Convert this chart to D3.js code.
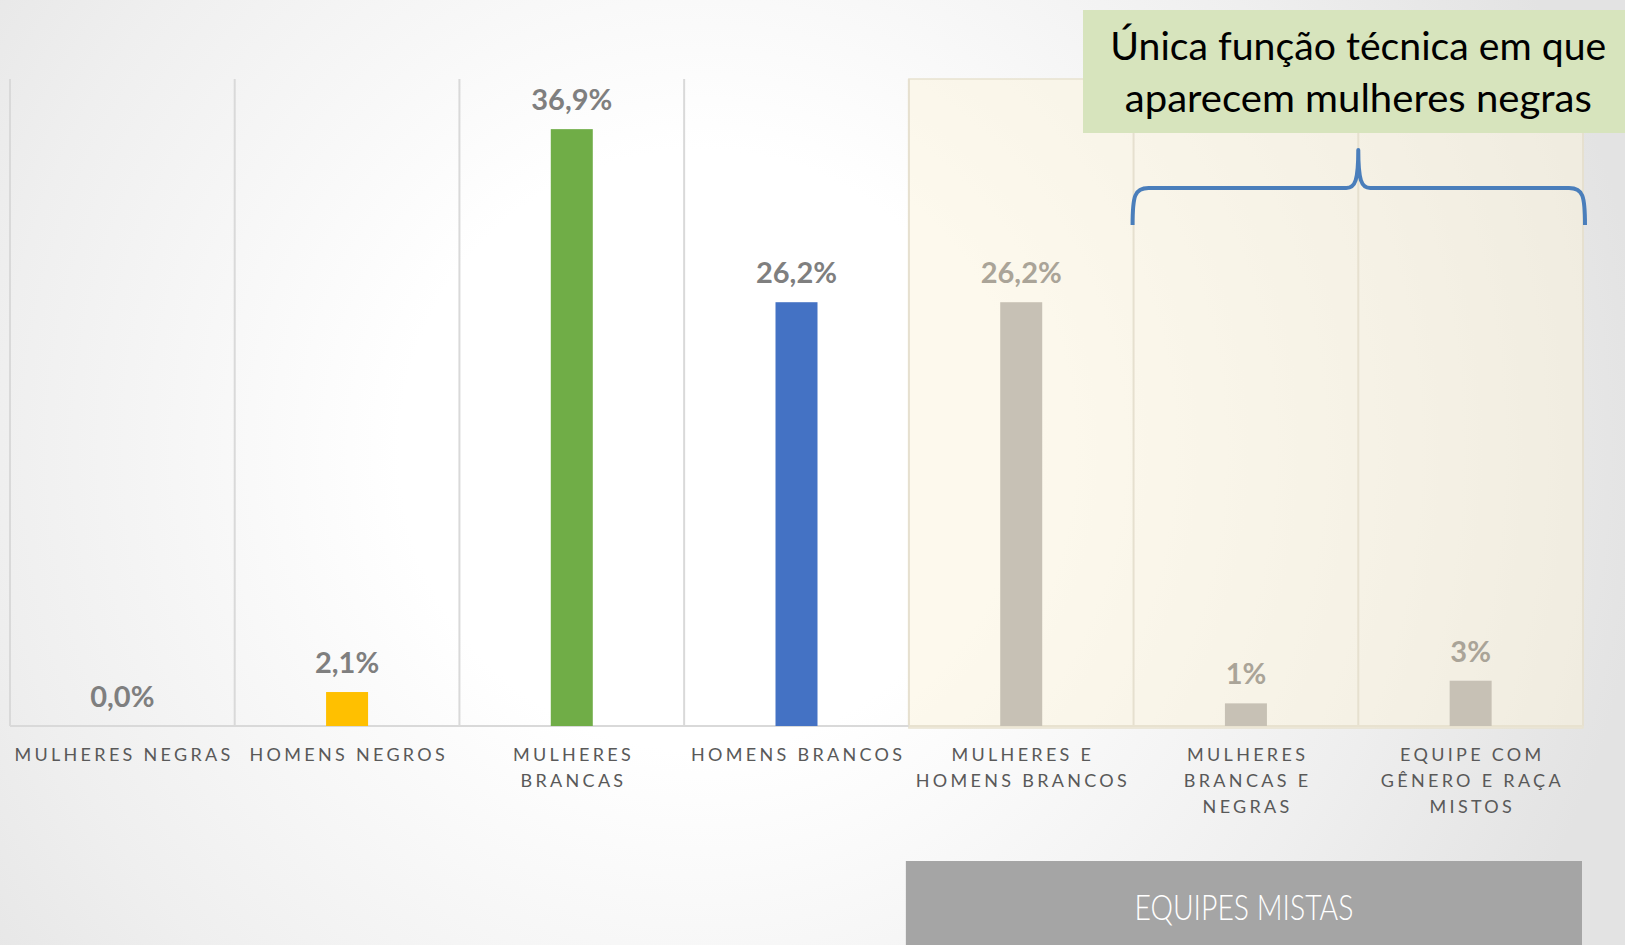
<!DOCTYPE html>
<html><head><meta charset="utf-8">
<script src="https://cdn.jsdelivr.net/npm/d3@7"></script>
<style>html,body{margin:0;padding:0;overflow:hidden;background:#fff}</style>
</head><body>
<svg id="chart" width="1625" height="945"></svg>
<script>
const categories = ["MULHERES NEGRAS","HOMENS NEGROS","MULHERES BRANCAS","HOMENS BRANCOS","MULHERES E HOMENS BRANCOS","MULHERES BRANCAS E NEGRAS","EQUIPE COM GÊNERO E RAÇA MISTOS"];
const categoryLines = [["MULHERES NEGRAS"],["HOMENS NEGROS"],["MULHERES","BRANCAS"],["HOMENS BRANCOS"],["MULHERES E","HOMENS BRANCOS"],["MULHERES","BRANCAS E","NEGRAS"],["EQUIPE COM","GÊNERO E RAÇA","MISTOS"]];
const values = [0.0, 2.1, 36.9, 26.2, 26.2, 1.4, 2.8];
const valueLabels = ["0,0%","2,1%","36,9%","26,2%","26,2%","1%","3%"];
const barColors = ["#ffc000","#ffc000","#70ad47","#4472c4","#c7c1b5","#c7c1b5","#c7c1b5"];
const labelColors = ["#7f7f7f","#7f7f7f","#7f7f7f","#7f7f7f","#aaa498","#aaa498","#aaa498"];
const mixedGroup = ["MULHERES E HOMENS BRANCOS","EQUIPE COM GÊNERO E RAÇA MISTOS"];
const bracedGroup = ["MULHERES BRANCAS E NEGRAS","EQUIPE COM GÊNERO E RAÇA MISTOS"];
const annotationLines = ["Única função técnica em que","aparecem mulheres negras"];
const groupTitle = "EQUIPES MISTAS";
const yDomain = [0, 40];

const svg = d3.select("#chart");
const W = 1625, H = 945;
const defs = svg.append("defs");
const rg = defs.append("radialGradient").attr("id","bg").attr("gradientUnits","userSpaceOnUse")
  .attr("cx",700).attr("cy",450).attr("r",1000);
rg.append("stop").attr("offset","0.3").attr("stop-color","#ffffff");
rg.append("stop").attr("offset","0.7").attr("stop-color","#efefef");
rg.append("stop").attr("offset","0.95").attr("stop-color","#e3e3e3");
svg.append("rect").attr("width",W).attr("height",H).attr("fill","url(#bg)");

const x = d3.scaleBand().domain(categories).range([10, 1583]).padding(0);
const y = d3.scaleLinear().domain(yDomain).range([726, 79]);
const bw = 42;
const font = "Lato, 'Open Sans', sans-serif";

// shaded region for mixed teams
const sx0 = x(mixedGroup[0]), sx1 = x(mixedGroup[1]) + x.bandwidth();
svg.append("rect").attr("x", sx0).attr("y", y(yDomain[1])).attr("width", sx1 - sx0)
  .attr("height", y(0) - y(yDomain[1]) + 2)
  .attr("fill","rgb(251,243,220)").attr("fill-opacity",0.5)
  .attr("stroke","#e8e2d0").attr("stroke-width",1.5);

// gridlines
const bounds = categories.map(c => x(c)).concat([x(categories[6]) + x.bandwidth()]);
svg.append("g").selectAll("line").data(bounds).join("line")
  .attr("x1", d => d).attr("x2", d => d)
  .attr("y1", y(yDomain[1])).attr("y2", y(0))
  .attr("stroke", d => d >= sx0 - 1 ? "#e6e0cf" : "#d9d9d9").attr("stroke-width", 2);
// baseline
svg.append("line").attr("x1", x.range()[0]).attr("x2", sx0).attr("y1", y(0)).attr("y2", y(0))
  .attr("stroke","#d9d9d9").attr("stroke-width",2);
svg.append("line").attr("x1", sx0).attr("x2", sx1).attr("y1", y(0)).attr("y2", y(0))
  .attr("stroke","#e8e2d0").attr("stroke-width",2);

// bars
svg.append("g").selectAll("rect").data(categories).join("rect")
  .attr("x", (c) => x(c) + x.bandwidth()/2 - bw/2)
  .attr("y", (c,i) => y(values[i]))
  .attr("width", bw)
  .attr("height", (c,i) => y(0) - y(values[i]))
  .attr("fill", (c,i) => barColors[i]);

// value labels
svg.append("g").selectAll("text").data(categories).join("text")
  .attr("x", c => x(c) + x.bandwidth()/2)
  .attr("y", (c,i) => y(values[i]) - 19)
  .attr("text-anchor","middle")
  .attr("font-family", font).attr("font-weight", 700).attr("font-size", 29)
  .attr("fill", (c,i) => labelColors[i])
  .text((c,i) => valueLabels[i]);

// category labels
const cl = svg.append("g");
categories.forEach((c, i) => {
  categoryLines[i].forEach((ln, j) => {
    cl.append("text")
      .attr("x", x(c) + x.bandwidth()/2 + 1.7)
      .attr("y", 760.5 + j * 26)
      .attr("text-anchor","middle")
      .attr("font-family", font).attr("font-size", 18)
      .attr("letter-spacing", "3.3px")
      .attr("fill","#595959")
      .text(ln);
  });
});

// group title box
const gx0 = x(mixedGroup[0]) - 3, gx1 = x(mixedGroup[1]) + x.bandwidth() - 1;
svg.append("rect").attr("x", gx0).attr("y", 861).attr("width", gx1 - gx0).attr("height", 100)
  .attr("fill","#a5a5a5");
svg.append("text").attr("x", (gx0 + gx1)/2).attr("y", 920)
  .attr("text-anchor","middle").attr("font-family", font).attr("font-weight", 300)
  .attr("font-size", 36).attr("fill","#ffffff")
  .attr("textLength", 219).attr("lengthAdjust","spacingAndGlyphs")
  .text(groupTitle);

// annotation box
const tipX = x(bracedGroup[1]);
svg.append("rect").attr("x", 1083).attr("y", 10).attr("width", W - 1083).attr("height", 123)
  .attr("fill","#d7e4bd");
const annWidths = [496, 467];
annotationLines.forEach((ln, j) => {
  svg.append("text").attr("x", tipX).attr("y", 60 + j * 52)
    .attr("text-anchor","middle").attr("font-family", font).attr("font-size", 38)
    .attr("fill","#000000")
    .attr("textLength", annWidths[j]).attr("lengthAdjust","spacingAndGlyphs")
    .text(ln);
});

// brace
const bx0 = x(bracedGroup[0]) - 1, bx1 = x(bracedGroup[1]) + x.bandwidth() + 2;
const yEnd = 225, yBar = 188, yTip = 150;
const p = d3.path();
p.moveTo(bx0, yEnd);
p.bezierCurveTo(bx0, yBar + 8, bx0 + 2, yBar, bx0 + 16, yBar);
p.lineTo(tipX - 12, yBar);
p.bezierCurveTo(tipX - 3, yBar, tipX, yBar - 8, tipX, yTip);
p.bezierCurveTo(tipX, yBar - 8, tipX + 3, yBar, tipX + 12, yBar);
p.lineTo(bx1 - 16, yBar);
p.bezierCurveTo(bx1 - 2, yBar, bx1, yBar + 8, bx1, yEnd);
svg.append("path").attr("d", p.toString()).attr("fill","none")
  .attr("stroke","#4a7ebb").attr("stroke-width",4).attr("stroke-linejoin","round");
</script>
</body></html>
